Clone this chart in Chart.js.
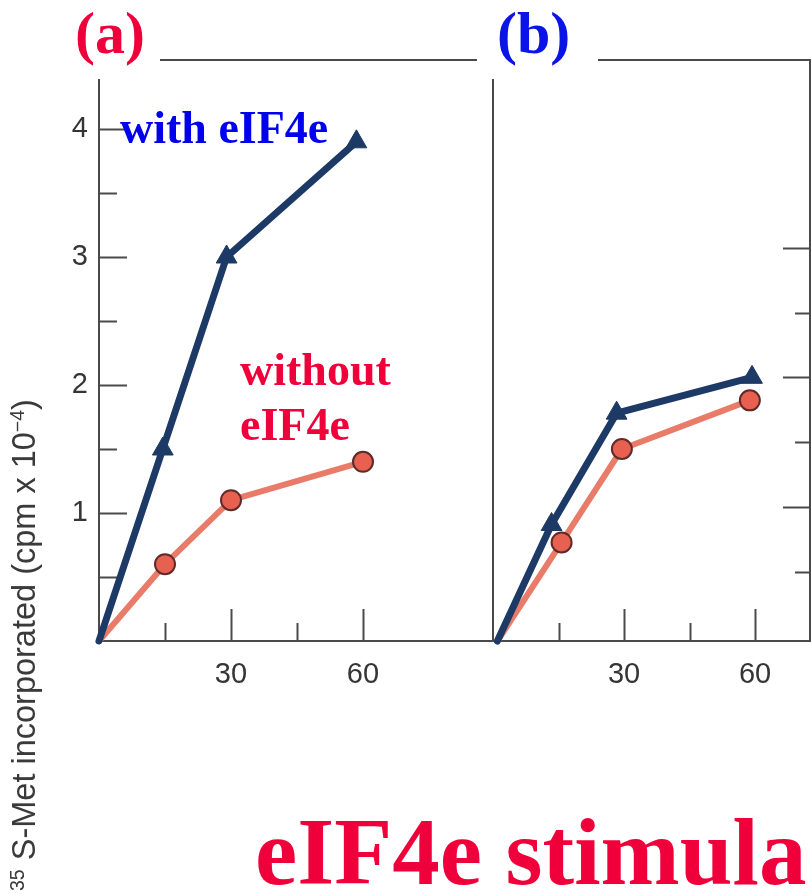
<!DOCTYPE html>
<html>
<head>
<meta charset="utf-8">
<script src="https://cdn.jsdelivr.net/npm/chart.js@4.4.1/dist/chart.umd.min.js"></script>
<style>
  html, body { margin:0; padding:0; background:#fff; width:811px; height:894px; overflow:hidden; }
  #wrap { position:relative; width:811px; height:894px; overflow:hidden; }
  canvas { position:absolute; left:0; top:0; }
  .lbl { position:absolute; font-family:"Liberation Serif", "Times New Roman", serif; font-weight:bold; line-height:1; white-space:nowrap; }
  .mask { position:absolute; background:#fff; }
  #ytitle { position:absolute; font-family:"Liberation Sans", Arial, sans-serif; color:#3a3a3a; line-height:1; white-space:nowrap; transform-origin:left top; transform:rotate(-90deg); }
  #ytitle sup { font-size:60%; vertical-align:0.55em; line-height:0; }
</style>
</head>
<body>
<div id="wrap">
  <canvas id="chartA" width="811" height="894"></canvas>
  <canvas id="chartB" width="811" height="894"></canvas>
  <div class="mask" style="left:0;top:0;width:160px;height:79px;"></div>
  <div class="mask" style="left:477px;top:0;width:121px;height:79px;"></div>
  <div class="lbl" style="left:75px;top:3px;font-size:60px;color:#f0003a;">(a)</div>
  <div class="lbl" style="left:497px;top:3px;font-size:60px;color:#0a14e6;">(b)</div>
  <div class="lbl" style="left:120px;top:105px;font-size:46px;color:#0000ee;">with eIF4e</div>
  <div class="lbl" style="left:240px;top:347px;font-size:46px;color:#f0003a;">without</div>
  <div class="lbl" style="left:240px;top:402px;font-size:46px;color:#f0003a;">eIF4e</div>
  <div class="lbl" style="left:255px;top:805px;font-size:95px;color:#f0003a;">eIF4e stimula</div>
  <div id="ytitle" style="left:8px;top:891px;font-size:32.5px;"><sup>35</sup> S-Met incorporated (cpm x 10<sup>&minus;4</sup>)</div>
</div>
<script>
// ---- data ----
const timesA_with     = [0, 14.5, 29, 58.5];
const valuesA_with    = [0, 1.5, 3.0, 3.9];
const timesA_without  = [0, 15, 30, 60];
const valuesA_without = [0, 0.6, 1.1, 1.4];

const timesB_with     = [1, 13.4, 28.3, 59.3];
const valuesB_with    = [0, 0.91, 1.78, 2.06];
const timesB_without  = [1, 15.7, 29.5, 58.8];
const valuesB_without = [0, 0.77, 1.5, 1.88];

const xTicks      = [15, 30, 45, 60];
const xTickLabels = [30, 60];
const yTicks      = [0.5, 1, 1.5, 2, 2.5, 3, 3.5, 4];
const yTickLabels = [1, 2, 3, 4];
const y2Ticks     = [0.5, 1, 1.5, 2, 2.5, 3];
const y2Major     = [1, 2, 3];

// ---- styles ----
const AXIS = '#4a4a4a';
const BLUE = '#1d3a66';
const RED_LINE = '#e97b69';
const RED_FILL = '#e8604f';
const RED_EDGE = '#5e2a2a';
const tickFont = { family: 'Liberation Sans, Arial, sans-serif', size: 29 };

const pts = (xs, ys) => xs.map((x, i) => ({ x, y: ys[i] }));

const innerTicks = {
  id: 'innerTicks',
  beforeDatasetsDraw(chart, args, opts) {
    const ctx = chart.ctx, a = chart.chartArea;
    ctx.save();
    ctx.strokeStyle = AXIS;
    ctx.lineWidth = 2;
    ctx.lineCap = 'butt';
    ctx.beginPath();
    ctx.moveTo(a.left - 1, a.top);
    ctx.lineTo(a.right + 1, a.top);
    ctx.stroke();
    for (const m of opts.marks) {
      const s = chart.scales[m.axis];
      for (const v of m.values) {
        const major = m.major.includes(v);
        const p = Math.round(s.getPixelForValue(v)) + 0.5;
        ctx.beginPath();
        if (m.side === 'bottom') {
          const len = major ? 32 : 18;
          ctx.moveTo(p, a.bottom); ctx.lineTo(p, a.bottom - len);
        } else if (m.side === 'left') {
          const len = major ? 28 : 18;
          ctx.moveTo(a.left, p); ctx.lineTo(a.left + len, p);
        } else {
          const len = major ? 27 : 15;
          ctx.moveTo(a.right, p); ctx.lineTo(a.right - len, p);
        }
        ctx.stroke();
      }
    }
    ctx.restore();
  }
};

function seriesWith(xs, ys) {
  return {
    data: pts(xs, ys), showLine: true,
    borderColor: BLUE, borderWidth: 7, borderJoinStyle: 'round', borderCapStyle: 'round',
    pointStyle: 'triangle', backgroundColor: BLUE, pointBorderColor: BLUE, pointBorderWidth: 1,
    pointRadius: xs.map((x, i) => i === 0 ? 0 : 12), clip: false
  };
}
function seriesWithout(xs, ys) {
  return {
    data: pts(xs, ys), showLine: true,
    borderColor: RED_LINE, borderWidth: 6, borderJoinStyle: 'round', borderCapStyle: 'round',
    pointStyle: 'circle', backgroundColor: RED_FILL, pointBackgroundColor: RED_FILL,
    pointBorderColor: RED_EDGE, pointBorderWidth: 2,
    pointRadius: xs.map((x, i) => i === 0 ? 0 : 10), clip: false
  };
}

const yMaxVal = (641 - 60) / 128;

function makeChart(id, withX, withY, withoutX, withoutY, xMax, padding, showYLabels, rightAxis) {
  const scales = {
    x: {
      type: 'linear', min: 0, max: xMax,
      grid: { display: false }, border: { display: true, color: AXIS, width: 2 },
      afterBuildTicks: s => { s.ticks = xTicks.map(v => ({ value: v })); },
      afterFit: s => { s.height = 894 - 641; },
      ticks: { autoSkip: false, maxRotation: 0, padding: 9, color: '#353535', font: tickFont,
               callback: v => xTickLabels.includes(v) ? String(v) : '' }
    },
    y: {
      type: 'linear', min: 0, max: yMaxVal,
      grid: { display: false }, border: { display: true, color: AXIS, width: 2 },
      afterBuildTicks: s => { s.ticks = yTicks.map(v => ({ value: v })); },
      afterFit: s => { s.width = showYLabels ? 99 : 0; },
      ticks: { display: showYLabels, padding: 3, color: '#353535', font: tickFont,
               callback: v => yTickLabels.includes(v) ? String(v) : '' }
    }
  };
  const marks = [
    { axis: 'x', side: 'bottom', values: xTicks, major: xTickLabels },
  ];
  if (showYLabels) marks.push({ axis: 'y', side: 'left', values: yTicks, major: yTickLabels });
  if (rightAxis) {
    scales.y2 = {
      type: 'linear', position: 'right', min: -0.035, max: 4.45,
      grid: { display: false }, border: { display: true, color: AXIS, width: 2 },
      afterBuildTicks: s => { s.ticks = y2Ticks.map(v => ({ value: v })); },
      afterFit: s => { s.width = 1; },
      ticks: { display: false }
    };
    marks.push({ axis: 'y2', side: 'right', values: y2Ticks, major: y2Major });
  }
  return new Chart(document.getElementById(id), {
    type: 'scatter',
    data: { datasets: [seriesWith(withX, withY), seriesWithout(withoutX, withoutY)] },
    options: {
      responsive: false, animation: false, events: [],
      layout: { padding, autoPadding: false },
      plugins: { legend: { display: false }, tooltip: { enabled: false }, innerTicks: { marks } },
      scales
    },
    plugins: [innerTicks]
  });
}

makeChart('chartA', timesA_with, valuesA_with, timesA_without, valuesA_without,
          (493 - 99) / 4.4, { top: 60, left: 0, right: 811 - 493, bottom: 0 }, true, false);
makeChart('chartB', timesB_with, valuesB_with, timesB_without, valuesB_without,
          (810 - 493.6) / 4.36, { top: 60, left: 493, right: 0, bottom: 0 }, false, true);
</script>
</body>
</html>
